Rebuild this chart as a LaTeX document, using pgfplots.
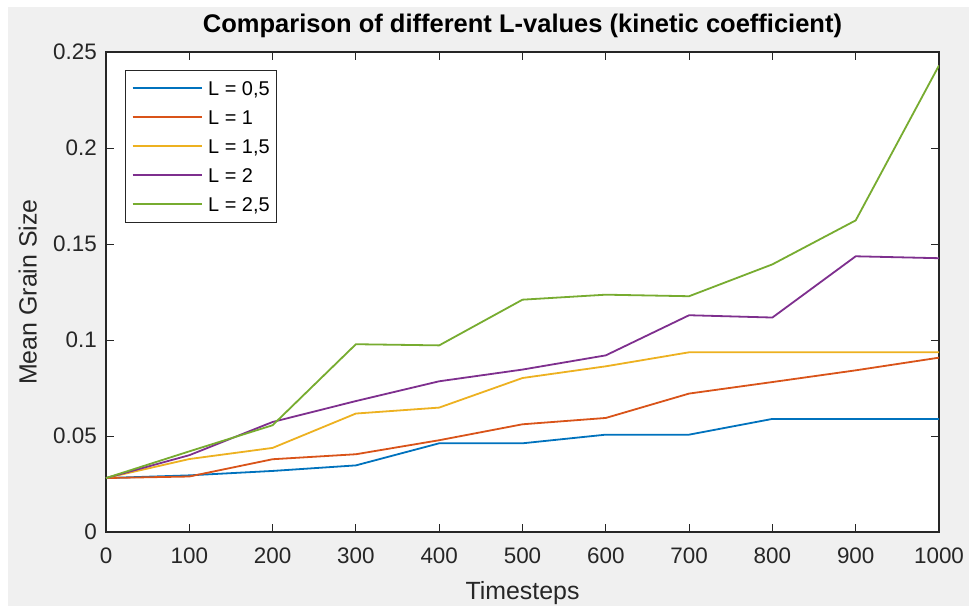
\documentclass[border=0pt]{standalone}
\usepackage{fontspec}
\setmainfont{Liberation Sans}
\usepackage{pgfplots}
\pgfplotsset{compat=1.18}
\usetikzlibrary{backgrounds}

\definecolor{mlblue}{rgb}{0,0.447,0.741}
\definecolor{mlred}{rgb}{0.850,0.325,0.098}
\definecolor{mlyellow}{rgb}{0.929,0.694,0.125}
\definecolor{mlpurple}{rgb}{0.494,0.184,0.556}
\definecolor{mlgreen}{rgb}{0.466,0.674,0.188}
\definecolor{figbg}{HTML}{F0F0F0}
\definecolor{axcol}{HTML}{262626}

\tikzset{series/.style={draw=#1, line width=1.8bp}}

\begin{document}
\begin{tikzpicture}
\begin{axis}[
  name=ax,
  scale only axis,
  width=833bp, height=480bp,
  xmin=0, xmax=1000, ymin=0, ymax=0.25,
  xtick={0,100,...,1000},
  ytick={0,0.05,0.1,0.15,0.2,0.25},
  yticklabels={0,0.05,0.1,0.15,0.2,0.25},
  /pgf/number format/assume math mode=true,
  /pgf/number format/1000 sep={},
  tick align=inside,
  major tick length=8bp,
  tick style={axcol, line width=0.9bp},
  axis line style={axcol, line width=1.1bp},
  axis background/.style={fill=white},
  tick label style={font=\fontsize{22.5}{26}\selectfont, text=axcol},
  xticklabel style={anchor=north, inner sep=0pt, yshift=-16bp},
  yticklabel style={anchor=east, inner sep=0pt, xshift=-9bp},
  title={\bfseries Comparison of different L-values (kinetic coefficient)},
  title style={font=\fontsize{25.6}{29}\selectfont, at={(axis description cs:0.5,1.0292)}, anchor=base, inner sep=0pt},
  xlabel={Timesteps},
  xlabel style={font=\fontsize{25}{29}\selectfont, text=axcol, at={(axis description cs:0.5,-0.1396)}, anchor=base, inner sep=0pt},
  ylabel={Mean Grain Size},
  ylabel style={font=\fontsize{25}{29}\selectfont, text=axcol, at={(axis description cs:-0.0832,0.5)}, anchor=base, inner sep=0pt},
  legend image code/.code={\draw[#1, line width=1.8bp] (0bp,0bp) -- (69bp,0bp);},
  legend style={
    at={(axis description cs:0.0228,0.9625)}, anchor=north west,
    draw=axcol, fill=white,
    font=\fontsize{20}{24}\selectfont,
    inner xsep=6.5bp, inner ysep=10.5bp,
    row sep=14bp, column sep=5.7bp,
    nodes={inner sep=0pt, anchor=west, text height=15bp, text depth=0bp},
  },
  legend cell align=left,
]
% L = 0,5
\addplot[series=mlblue] coordinates {
  (0,0.0281) (100,0.0295) (200,0.0318) (300,0.0347) (400,0.0462) (500,0.0462)
  (600,0.0507) (700,0.0507) (800,0.0589) (900,0.0589) (1000,0.0589)};
% L = 1
\addplot[series=mlred] coordinates {
  (0,0.0281) (100,0.0289) (200,0.0379) (300,0.0405) (400,0.0478) (500,0.0561)
  (600,0.0594) (700,0.0721) (800,0.0781) (900,0.0842) (1000,0.0908)};
% L = 1,5
\addplot[series=mlyellow] coordinates {
  (0,0.0281) (100,0.0380) (200,0.0438) (300,0.0617) (400,0.0648) (500,0.0802)
  (600,0.0863) (700,0.0936) (800,0.0936) (900,0.0936) (1000,0.0936)};
% L = 2
\addplot[series=mlpurple] coordinates {
  (0,0.0281) (100,0.0400) (200,0.0573) (300,0.0682) (400,0.0785) (500,0.0846)
  (600,0.0920) (700,0.1129) (800,0.1117) (900,0.1436) (1000,0.1426)};
% L = 2,5
\addplot[series=mlgreen] coordinates {
  (0,0.0281) (100,0.0420) (200,0.0556) (300,0.0978) (400,0.0972) (500,0.1210)
  (600,0.1236) (700,0.1228) (800,0.1394) (900,0.1623) (1000,0.2430)};
\legend{L = 0{,}5, L = 1, L = 1{,}5, L = 2, L = 2{,}5}
\end{axis}
% figure canvas: 969 x 606 around the axis box
\pgfresetboundingbox
\path[use as bounding box] ([shift={(-106bp,-74bp)}]ax.south west) rectangle ([shift={(30bp,52bp)}]ax.north east);
\begin{pgfonlayer}{background}
  \fill[white] ([shift={(-106bp,-74bp)}]ax.south west) rectangle ([shift={(30bp,52bp)}]ax.north east);
  \fill[figbg] ([shift={(-98bp,-74bp)}]ax.south west) rectangle ([shift={(30bp,45bp)}]ax.north east);
\end{pgfonlayer}
\end{tikzpicture}
\end{document}
